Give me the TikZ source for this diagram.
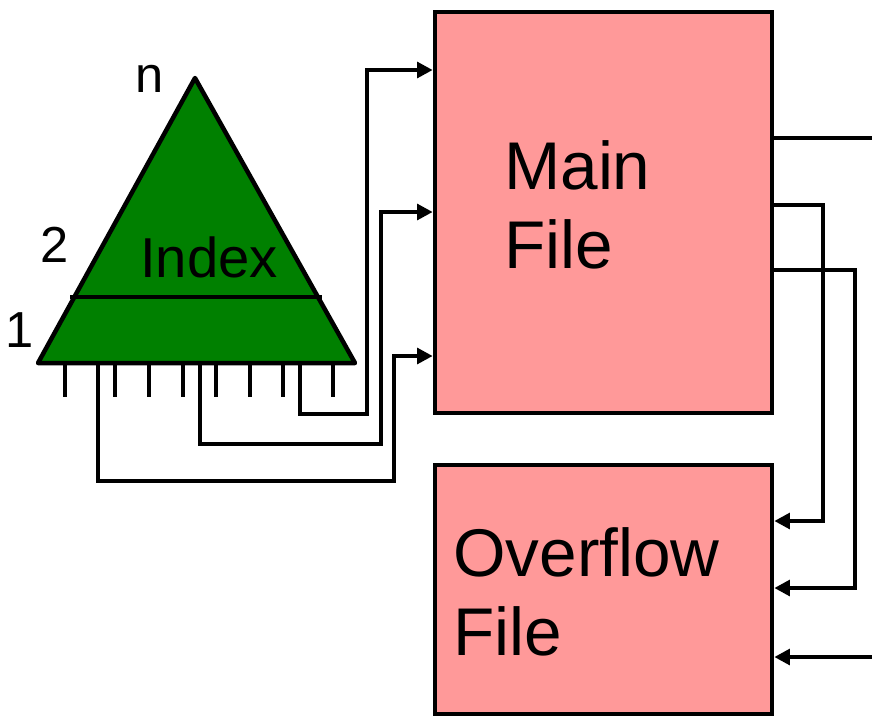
\documentclass[tikz,border=0pt]{standalone}
\usepackage{fontspec}
\setmainfont{Liberation Sans}
\usetikzlibrary{calc}
\usetikzlibrary{positioning}
\usetikzlibrary{arrows.meta}
\definecolor{idxgreen}{RGB}{0,128,0}
\definecolor{filepink}{RGB}{255,153,153}

\begin{document}
\begin{tikzpicture}[
        x=0.025cm, y=-0.025cm,
        line width=3.2pt,
        file/.style={rectangle, draw=black, fill=filepink, line width=3.2pt, inner sep=0pt},
        big/.style={font=\fontsize{48}{56}\selectfont, align=left, inner sep=0pt},
        num/.style={font=\fontsize{36}{40}\selectfont, inner sep=0pt},
        link/.style={-{Triangle[length=11pt, width=11pt]}},
    ]

    \useasboundingbox (0,0) rectangle (872,717);

    % files
    \node[file, minimum width=8.425cm, minimum height=10.025cm]  (main)      at (603.5,212.5) {};
    \node[file, minimum width=8.425cm, minimum height=6.225cm]   (overflow)  at (603.5,589.5) {};

    \node[big, anchor=west]   (mainlbl)   at (502,205) {Main\\File};
    \node[big, anchor=west]   (ovflbl)    at (451,592) {Overflow\\File};

    % index
    \coordinate (apex)  at (195,78);
    \coordinate (bl)    at (38,363);
    \coordinate (br)    at (355,363);
    \draw[fill=idxgreen, line join=round] (bl) -- (apex) -- (br) -- cycle;
    \draw (70,297) -- (322,297);

    \foreach \x in {65,115,149,183,216,250,283,333}
        \draw (\x,363) -- (\x,397);

    \node[num, font=\fontsize{40}{44}\selectfont]  (idxlbl)  at (209,257) {Index};
    \node[num]  (lbln)    at (150,79)  {n};
    \node[num]  (lbl2)    at (55,245)  {2};
    \node[num]  (lbl1)    at (20,330)  {1};

    % pointers into main file
    \coordinate (p1) at (98,363);
    \coordinate (p2) at (200,363);
    \coordinate (p3) at (300,363);

    \draw[link] (p1) |- (394,481) |- (main.west |- 0,356);
    \draw[link] (p2) |- (381,444) |- (main.west |- 0,212);
    \draw[link] (p3) |- (367,414) |- (main.west |- 0,70);

    % overflow chains
    \coordinate (o1) at (872,138);
    \coordinate (o2) at (872,657);

    \draw (main.east |- 0,138) -- (o1);
    \draw[link] (main.east |- 0,205) -| (823,521) -- (overflow.east |- 0,521);
    \draw[link] (main.east |- 0,270) -| (855,588) -- (overflow.east |- 0,588);
    \draw[link] (o2) -- (overflow.east |- 0,657);

\end{tikzpicture}
\end{document}
